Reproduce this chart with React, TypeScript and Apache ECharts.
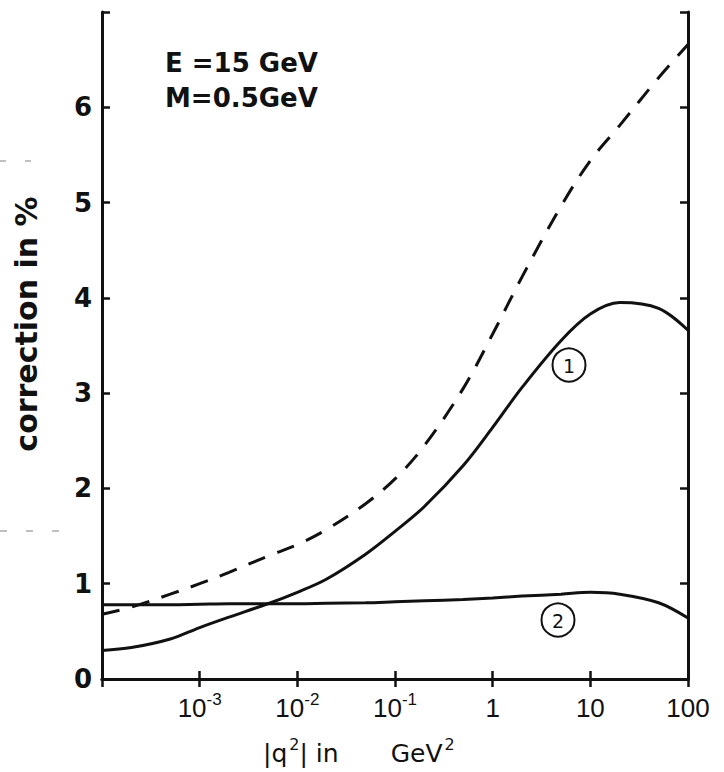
import React, { useEffect, useRef } from "react";
import * as echarts from "echarts";

// |q^2| in GeV^2 (log scale)
const q2 = [1e-4, 2e-4, 5e-4, 1e-3, 2e-3, 5e-3, 1e-2, 2e-2, 5e-2, 0.1, 0.2, 0.5, 1, 2, 5, 10, 20, 50, 100];
// correction in % — curve (1)
const curveOne = [0.30, 0.33, 0.42, 0.54, 0.65, 0.79, 0.91, 1.05, 1.31, 1.55, 1.81, 2.24, 2.64, 3.06, 3.55, 3.83, 3.95, 3.89, 3.66];
// curve (2)
const curveTwo = [0.78, 0.78, 0.78, 0.785, 0.79, 0.79, 0.79, 0.795, 0.80, 0.81, 0.82, 0.835, 0.85, 0.87, 0.89, 0.91, 0.89, 0.80, 0.64];
// dashed curve
const dashedCurve = [0.68, 0.755, 0.89, 1.0, 1.12, 1.29, 1.41, 1.57, 1.84, 2.10, 2.45, 3.05, 3.62, 4.22, 4.96, 5.44, 5.81, 6.31, 6.66];

const yMin = 0;
const yMax = 7;
const xMin = 1e-4;
const xMax = 100;

const annotationLines = ["E =15 GeV", "M=0.5GeV"];
const yTitle = "correction in %";

const FONT = "DejaVu Sans";
const INK = "#111";

function xLabel(v: number): string {
  const e = Math.round(Math.log10(v));
  if (e <= -4) return "";
  if (e < 0) return `{n|10}{s|${e}}`;
  return `{n|${Math.round(Math.pow(10, e))}}`;
}

export default function App() {
  const ref = useRef<HTMLDivElement>(null);
  useEffect(() => {
    if (!ref.current) return;
    const chart = echarts.init(ref.current, undefined, { renderer: "svg" });
    const pts = (ys: number[]) => q2.map((x, i) => [x, ys[i]]);
    const axisLine = { show: true, lineStyle: { color: INK, width: 3 } };
    const axisTick = { show: true, inside: true, length: 8, lineStyle: { color: INK, width: 2.5 } };
    chart.setOption({
      animation: false,
      backgroundColor: "#fff",
      grid: { left: 102, right: 36, top: 12, bottom: 93 },
      xAxis: [
        {
          type: "log",
          logBase: 10,
          min: xMin,
          max: xMax,
          splitNumber: 6,
          axisLine,
          axisTick,
          splitLine: { show: false },
          minorTick: { show: false },
          axisLabel: {
            margin: 12,
            formatter: xLabel,
            showMaxLabel: true,
            rich: {
              n: { fontFamily: "Liberation Sans", fontSize: 26, lineHeight: 30, color: INK, verticalAlign: "bottom" },
              s: { fontFamily: "Liberation Sans", fontSize: 17, lineHeight: 16, color: INK, verticalAlign: "top" },
            },
          },
        },
        {
          type: "log",
          logBase: 10,
          min: xMin,
          max: xMax,
          splitNumber: 6,
          position: "top",
          axisLine,
          axisTick,
          splitLine: { show: false },
          axisLabel: { show: false },
        },
      ],
      yAxis: [
        {
          type: "value",
          min: yMin,
          max: yMax,
          interval: 1,
          axisLine,
          axisTick,
          splitLine: { show: false },
          axisLabel: {
            margin: 10,
            fontFamily: FONT,
            fontWeight: "bold",
            fontSize: 26,
            color: INK,
            formatter: (v: number) => (v === yMax ? "" : String(v)),
          },
        },
        {
          type: "value",
          min: yMin,
          max: yMax,
          interval: 1,
          position: "right",
          axisLine,
          axisTick,
          splitLine: { show: false },
          axisLabel: { show: false },
        },
      ],
      series: [
        {
          type: "line",
          data: pts(dashedCurve),
          showSymbol: false,
          smooth: 0.35,
          lineStyle: { color: INK, width: 3, type: [18, 13] },
        },
        {
          type: "line",
          data: pts(curveOne),
          showSymbol: false,
          smooth: 0.35,
          lineStyle: { color: INK, width: 3 },
        },
        {
          type: "line",
          data: pts(curveTwo),
          showSymbol: false,
          smooth: 0.35,
          lineStyle: { color: INK, width: 3 },
        },
      ],
      graphic: [
        {
          type: "text",
          x: 165,
          y: 63,
          style: {
            text: annotationLines[0],
            fontFamily: FONT,
            fontWeight: "bold",
            fontSize: 26,
            fill: INK,
            align: "left",
            verticalAlign: "middle",
            textAlign: "left",
            textVerticalAlign: "middle",
          },
        },
        {
          type: "text",
          x: 165,
          y: 98,
          style: {
            text: annotationLines[1],
            fontFamily: FONT,
            fontWeight: "bold",
            fontSize: 26,
            fill: INK,
            align: "left",
            verticalAlign: "middle",
            textAlign: "left",
            textVerticalAlign: "middle",
          },
        },
        {
          type: "text",
          x: 26,
          y: 324,
          rotation: Math.PI / 2,
          style: {
            text: yTitle,
            fontFamily: FONT,
            fontWeight: "bold",
            fontSize: 30,
            fill: INK,
            align: "center",
            verticalAlign: "middle",
            textAlign: "center",
            textVerticalAlign: "middle",
          },
        },
        {
          type: "text",
          x: 263,
          y: 751,
          style: {
            text: "{t||q}{s|2}{t|| in}{g|GeV}{s|2}",
            align: "left",
            verticalAlign: "middle",
            textAlign: "left",
            textVerticalAlign: "middle",
            rich: {
              t: { fontFamily: FONT, fontSize: 25, lineHeight: 30, fill: INK, verticalAlign: "bottom" },
              g: { fontFamily: FONT, fontSize: 25, lineHeight: 30, fill: INK, verticalAlign: "bottom", padding: [0, 0, 0, 52] },
              s: { fontFamily: FONT, fontSize: 16, lineHeight: 16, fill: INK, verticalAlign: "top", padding: [0, 0, 0, 2] },
            },
          },
        },
        { type: "circle", shape: { cx: 569, cy: 365, r: 16.5 }, style: { fill: "none", stroke: INK, lineWidth: 2 } },
        {
          type: "text",
          x: 569,
          y: 366,
          style: { text: "1", fontFamily: FONT, fontSize: 19, fill: INK, align: "center", verticalAlign: "middle", textAlign: "center", textVerticalAlign: "middle" },
        },
        { type: "circle", shape: { cx: 558, cy: 620, r: 16.5 }, style: { fill: "none", stroke: INK, lineWidth: 2 } },
        {
          type: "text",
          x: 558,
          y: 621,
          style: { text: "2", fontFamily: FONT, fontSize: 19, fill: INK, align: "center", verticalAlign: "middle", textAlign: "center", textVerticalAlign: "middle" },
        },
        { type: "line", shape: { x1: 0, y1: 161, x2: 34, y2: 161 }, style: { stroke: "#aaa", lineWidth: 1.5, lineDash: [6, 19] } },
        { type: "line", shape: { x1: 0, y1: 531, x2: 62, y2: 531 }, style: { stroke: "#aaa", lineWidth: 1.5, lineDash: [7, 19] } },
      ],
    });
    return () => chart.dispose();
  }, []);
  return (
    <div
      ref={ref}
      style={{ position: "fixed", left: 0, top: 0, width: 724, height: 772, background: "#fff" }}
    />
  );
}
